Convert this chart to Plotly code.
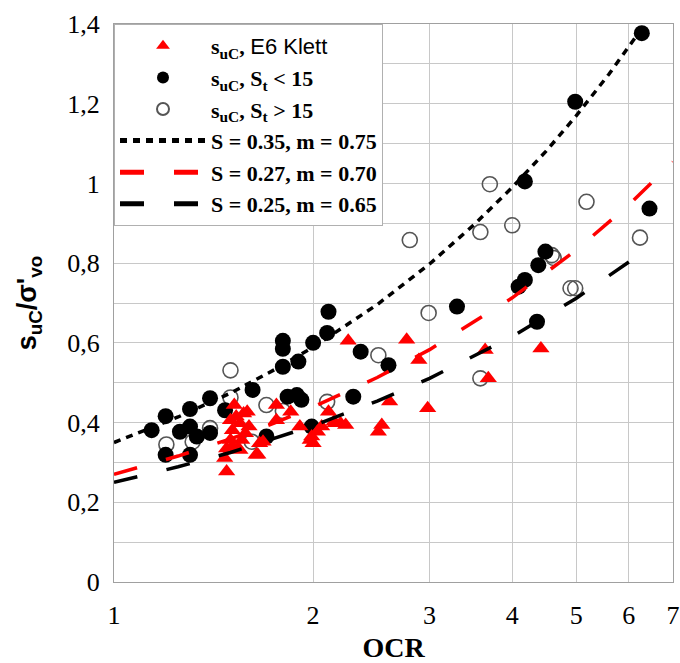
import plotly.graph_objects as go

# --- data ---
klett_ocr = [1.48, 1.47, 1.48, 1.50, 1.51, 1.50, 1.52, 1.54, 1.55, 1.59, 1.58, 1.56, 1.60, 1.53,
             1.64, 1.68, 1.76, 1.76, 1.85, 1.91, 1.98, 2.03, 2.11, 2.16, 1.51, 1.55, 1.57, 1.66,
             1.65, 1.99, 2.00, 2.06, 2.15, 2.20, 2.24, 2.26, 2.77, 2.89, 3.64, 4.42, 3.68, 2.61,
             2.98, 2.54, 2.51]
klett_val = [0.277, 0.311, 0.335, 0.356, 0.381, 0.406, 0.444, 0.335, 0.398, 0.427, 0.373, 0.356, 0.390, 0.415,
             0.319, 0.352, 0.444, 0.406, 0.427, 0.390, 0.356, 0.377, 0.427, 0.398, 0.340, 0.331, 0.423, 0.348,
             0.319, 0.365, 0.348, 0.390, 0.402, 0.398, 0.394, 0.605, 0.608, 0.557, 0.582, 0.586, 0.511, 0.453,
             0.436, 0.394, 0.377]

st_low_ocr = [1.14, 1.197, 1.197, 1.258, 1.303, 1.303, 1.303, 1.334, 1.397, 1.397, 1.472, 1.62, 1.70,
              1.80, 1.80, 1.80, 1.90, 1.83, 1.89, 1.92, 1.99, 2.00, 2.10, 2.11, 2.30, 2.36, 2.60,
              3.30, 4.18, 4.09, 4.18, 4.38, 4.49, 4.36, 6.28, 4.98, 6.45]
st_low_val = [0.381, 0.416, 0.319, 0.377, 0.434, 0.390, 0.319, 0.365, 0.461, 0.374, 0.431, 0.482, 0.365,
              0.605, 0.585, 0.540, 0.553, 0.465, 0.469, 0.457, 0.390, 0.600, 0.625, 0.678, 0.465, 0.578, 0.544,
              0.691, 1.005, 0.741, 0.758, 0.795, 0.829, 0.653, 1.377, 1.205, 0.937]

st_high_ocr = [1.20, 1.315, 1.397, 1.50, 1.50, 1.615, 1.70, 1.80, 2.10, 2.51, 2.99, 2.80, 3.70,
               3.58, 4.00, 4.59, 4.62, 4.90, 4.98, 5.18, 6.24, 3.58]
st_high_val = [0.345, 0.352, 0.386, 0.531, 0.463, 0.352, 0.444, 0.429, 0.452, 0.569, 0.675, 0.858, 0.998,
               0.878, 0.895, 0.820, 0.813, 0.737, 0.737, 0.954, 0.864, 0.511]

# fitted curves
fit1_ocr = [1.0, 1.25, 1.5, 1.75, 2.0, 2.5, 3.0, 3.5, 4.0, 4.5, 5.0, 5.6, 6.3]
fit1_val = [0.350, 0.414, 0.474, 0.533, 0.589, 0.696, 0.798, 0.896, 0.990, 1.081, 1.170, 1.274, 1.392]
fit2_ocr = [1.0, 1.25, 1.5, 1.75, 2.0, 2.5, 3.0, 4.0, 5.0, 6.0, 7.0]
fit2_val = [0.270, 0.316, 0.359, 0.399, 0.439, 0.513, 0.583, 0.713, 0.833, 0.946, 1.054]
fit3_ocr = [1.0, 1.25, 1.5, 1.75, 2.0, 2.5, 3.0, 4.0, 5.0, 6.3, 6.5]
fit3_val = [0.250, 0.289, 0.325, 0.360, 0.392, 0.454, 0.511, 0.616, 0.712, 0.827, 0.844]

x_ticks = [1, 2, 3, 4, 5, 6, 7]

SERIF = "Liberation Serif"
SANS = "Liberation Sans"

fig = go.Figure()

fig.add_trace(go.Scatter(
    x=st_high_ocr, y=st_high_val, mode="markers", legendrank=3,
    name="<b>s<sub>uC</sub>, S<sub>t</sub> &gt; 15</b>",
    marker=dict(symbol="circle-open", size=15, color="#555555", line=dict(width=1.6, color="#555555"))))
fig.add_trace(go.Scatter(
    x=st_low_ocr, y=st_low_val, mode="markers", legendrank=2,
    name="<b>s<sub>uC</sub>, S<sub>t</sub> &lt; 15</b>",
    marker=dict(symbol="circle", size=16, color="black")))
fig.add_trace(go.Scatter(
    x=klett_ocr, y=klett_val, mode="markers", legendrank=1,
    name="<b>s<sub>uC</sub>, </b><span style='font-family:Liberation Sans'>E6 Klett</span>",
    marker=dict(symbol="triangle-up", size=15, color="#ff0000")))
fig.add_trace(go.Scatter(
    x=fit1_ocr, y=fit1_val, mode="lines", legendrank=4,
    name="<b>S = 0.35, m = 0.75</b>",
    line=dict(color="black", width=3.5, dash="7px,6px")))
fig.add_trace(go.Scatter(
    x=fit2_ocr, y=fit2_val, mode="lines", legendrank=5,
    name="<b>S = 0.27, m = 0.70</b>",
    line=dict(color="#ff0000", width=3.5, dash="24px,30px")))
fig.add_trace(go.Scatter(
    x=fit3_ocr, y=fit3_val, mode="lines", legendrank=6,
    name="<b>S = 0.25, m = 0.65</b>",
    line=dict(color="black", width=3.5, dash="24px,30px")))

fig.update_layout(
    width=680, height=663,
    margin=dict(l=114, r=7, t=24, b=81),
    paper_bgcolor="white", plot_bgcolor="white",
    separators=",.",
    font=dict(family=SERIF, color="black", size=25),
    legend=dict(x=0, y=1, xanchor="left", yanchor="top",
                bgcolor="white", bordercolor="#b0b0b0", borderwidth=1,
                font=dict(family=SERIF, size=22, color="black"),
                itemwidth=86, itemsizing="constant", tracegroupgap=0),
    xaxis=dict(type="log", range=[0, 0.845098], tickvals=x_ticks,
               ticktext=[str(v) for v in x_ticks], automargin=False,
               showgrid=True, gridcolor="#c8c8c8", gridwidth=1,
               showline=True, linecolor="#a0a0a0", linewidth=1, mirror=True,
               ticks="", ticklabelstandoff=10, tickfont=dict(family=SERIF, size=26),
               title=dict(text="<b>OCR</b>", font=dict(family=SERIF, size=28), standoff=8),
               zeroline=False),
    yaxis=dict(range=[0, 1.4], tick0=0, dtick=0.2, automargin=False,
               showgrid=True, gridcolor="#c8c8c8", gridwidth=1,
               minor=dict(dtick=0.1, showgrid=True, gridcolor="#c8c8c8", gridwidth=1),
               showline=True, linecolor="#a0a0a0", linewidth=1, mirror=True,
               ticks="", ticklabelstandoff=8, tickfont=dict(family=SERIF, size=26),
               title=dict(text="<b>s<sub>uC</sub>/σ'<sub>vo</sub></b>", font=dict(family=SANS, size=27), standoff=22),
               zeroline=False),
)

fig.write_html("out.html")
